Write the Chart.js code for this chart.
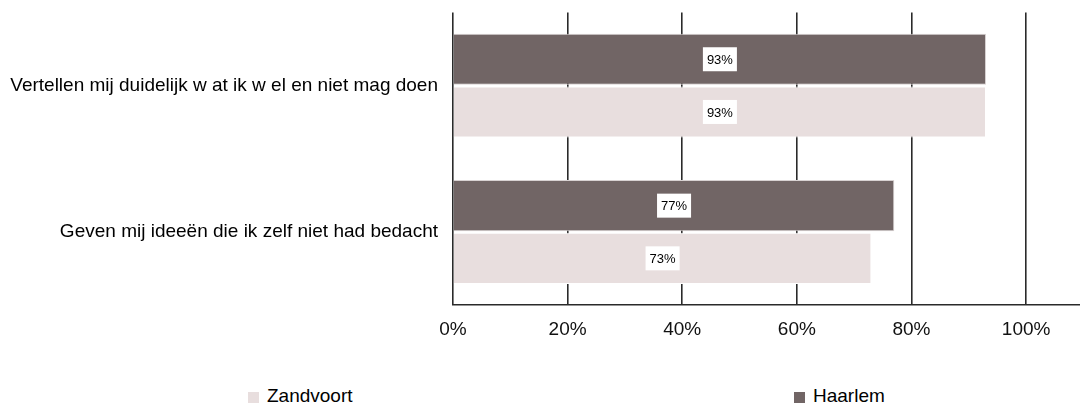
<!DOCTYPE html>
<html>
<head>
<meta charset="utf-8">
<script src="https://cdn.jsdelivr.net/npm/chart.js@4/dist/chart.umd.min.js"></script>
<style>
  body { margin: 0; background: #fff; font-family: "Liberation Sans", Arial, sans-serif; }
  #wrap { position: relative; width: 1080px; height: 403px; overflow: hidden; }
  #box { position: absolute; left: 0; top: -14px; width: 1080px; height: 368px; }
  .sq { position: absolute; top: 392px; width: 11px; height: 11px; }
  .lbl { position: absolute; top: 385px; font-size: 19px; line-height: 22px; color: #000; white-space: nowrap; }
</style>
</head>
<body>
<div id="wrap">
  <div id="box"><canvas id="chart"></canvas></div>
  <div id="legend"></div>
</div>
<script>
const categories = [
  'Vertellen mij duidelijk w at ik w el en niet mag doen',
  'Geven mij ideeën die ik zelf niet had bedacht'
];
const haarlem = [93, 77];
const zandvoort = [93, 73];
const xTicks = [0, 20, 40, 60, 80, 100];

const colHaarlem = '#716565';
const colZandvoort = '#e8dede';

// white boxes with the value in the middle of each bar
const valueLabels = {
  id: 'valueLabels',
  afterDatasetsDraw(chart) {
    const ctx = chart.ctx;
    ctx.save();
    ctx.font = '13px "Liberation Sans", Arial, sans-serif';
    ctx.textAlign = 'center';
    ctx.textBaseline = 'middle';
    chart.data.datasets.forEach((ds, i) => {
      chart.getDatasetMeta(i).data.forEach((bar, j) => {
        const cx = (bar.x + bar.base) / 2;
        const txt = ds.data[j] + '%';
        const w = ctx.measureText(txt).width + 8;
        ctx.fillStyle = '#fff';
        ctx.fillRect(cx - w / 2, bar.y - 12, w, 24);
        ctx.fillStyle = '#000';
        ctx.fillText(txt, cx, bar.y + 1);
      });
    });
    ctx.restore();
  }
};

new Chart(document.getElementById('chart'), {
  type: 'bar',
  data: {
    labels: categories,
    datasets: [
      { label: 'Haarlem', data: haarlem, backgroundColor: colHaarlem, borderColor: '#d8d2d2', borderWidth: 1 },
      { label: 'Zandvoort', data: zandvoort, backgroundColor: colZandvoort, borderColor: '#ffffff', borderWidth: 1 }
    ]
  },
  options: {
    indexAxis: 'y',
    responsive: true,
    maintainAspectRatio: false,
    animation: false,
    datasets: { bar: { categoryPercentage: 0.72, barPercentage: 0.97 } },
    layout: { padding: { top: 2, left: 0, right: 0, bottom: 0 } },
    plugins: { legend: { display: false }, tooltip: { enabled: false } },
    scales: {
      x: {
        min: 0,
        max: 109.4,
        grid: { color: '#2a2a2a', lineWidth: 1.6, drawTicks: false },
        border: { color: '#2a2a2a', width: 1.6 },
        afterBuildTicks: s => { s.ticks = xTicks.map(v => ({ value: v })); },
        ticks: {
          padding: 13,
          color: '#111',
          font: { family: '"Liberation Sans", Arial, sans-serif', size: 19 },
          callback: v => v + '%'
        }
      },
      y: {
        grid: { display: false, drawTicks: false },
        border: { display: false },
        afterFit: s => { s.width = 453; },
        ticks: {
          padding: 15,
          color: '#000',
          font: { family: '"Liberation Sans", Arial, sans-serif', size: 19 }
        }
      }
    }
  },
  plugins: [valueLabels]
});

// legend underneath, Zandvoort first as in the source
const legend = document.getElementById('legend');
[['Zandvoort', colZandvoort, 248], ['Haarlem', colHaarlem, 794]].forEach(([name, col, left]) => {
  const sq = document.createElement('div');
  sq.className = 'sq';
  sq.style.left = left + 'px';
  sq.style.background = col;
  const t = document.createElement('div');
  t.className = 'lbl';
  t.style.left = (left + 19) + 'px';
  t.textContent = name;
  legend.appendChild(sq);
  legend.appendChild(t);
});
</script>
</body>
</html>
